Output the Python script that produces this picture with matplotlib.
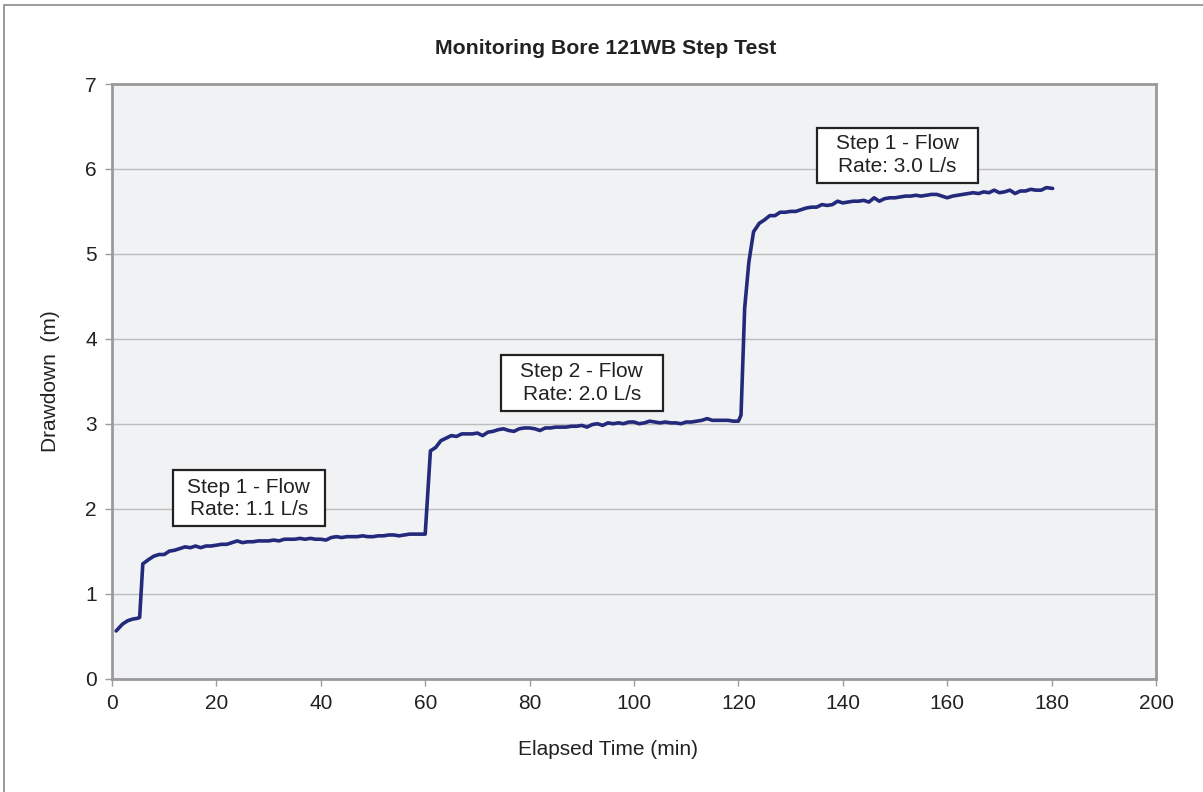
import matplotlib
matplotlib.use("Agg")
import matplotlib.pyplot as plt
from matplotlib.patches import Rectangle

plt.rcParams['font.family'] = ['Liberation Sans', 'DejaVu Sans']

time_min = [0.8, 2, 3, 4, 5, 5.3, 5.9, 7, 8, 9, 10, 11, 12, 13, 14, 15, 16, 17, 18, 19, 20,
            21, 22, 23, 24, 25, 26, 27, 28, 29, 30, 31, 32, 33, 34, 35, 36, 37, 38, 39, 40,
            41, 42, 43, 44, 45, 46, 47, 48, 49, 50, 51, 52, 53, 54, 55, 56, 57, 58, 59, 60.0,
            61.0, 62, 63, 64, 65, 66, 67, 68, 69, 70, 71, 72, 73, 74, 75, 76, 77, 78, 79, 80,
            81, 82, 83, 84, 85, 86, 87, 88, 89, 90, 91, 92, 93, 94, 95, 96, 97, 98, 99, 100,
            101, 102, 103, 104, 105, 106, 107, 108, 109, 110, 111, 112, 113, 114, 115, 116,
            117, 118, 119, 120.0, 120.5, 121.2, 122.0, 122.9, 124, 125, 126, 127, 128, 129,
            130, 131, 132, 133, 134, 135, 136, 137, 138, 139, 140, 141, 142, 143, 144, 145,
            146, 147, 148, 149, 150, 151, 152, 153, 154, 155, 156, 157, 158, 159, 160, 161,
            162, 163, 164, 165, 166, 167, 168, 169, 170, 171, 172, 173, 174, 175, 176, 177,
            178, 179, 180.2]
drawdown_m = [0.56, 0.64, 0.68, 0.70, 0.71, 0.72, 1.35, 1.40, 1.44, 1.46, 1.46, 1.50, 1.51,
              1.53, 1.55, 1.54, 1.56, 1.54, 1.56, 1.56, 1.57, 1.58, 1.58, 1.60, 1.62, 1.60,
              1.61, 1.61, 1.62, 1.62, 1.62, 1.63, 1.62, 1.64, 1.64, 1.64, 1.65, 1.64, 1.65,
              1.64, 1.64, 1.63, 1.66, 1.67, 1.66, 1.67, 1.67, 1.67, 1.68, 1.67, 1.67, 1.68,
              1.68, 1.69, 1.69, 1.68, 1.69, 1.70, 1.70, 1.70, 1.70,
              2.68, 2.72, 2.80, 2.83, 2.86, 2.85, 2.88, 2.88, 2.88, 2.89, 2.86, 2.90, 2.91,
              2.93, 2.94, 2.92, 2.91, 2.94, 2.95, 2.95, 2.94, 2.92, 2.95, 2.95, 2.96, 2.96,
              2.96, 2.97, 2.97, 2.98, 2.96, 2.99, 3.00, 2.98, 3.01, 3.00, 3.01, 3.00, 3.02,
              3.02, 3.00, 3.01, 3.03, 3.02, 3.01, 3.02, 3.01, 3.01, 3.00, 3.02, 3.02, 3.03,
              3.04, 3.06, 3.04, 3.04, 3.04, 3.04, 3.03, 3.03, 3.10, 4.36, 4.90, 5.26, 5.36,
              5.40, 5.45, 5.45, 5.49, 5.49, 5.50, 5.50, 5.52, 5.54, 5.55, 5.55, 5.58, 5.57,
              5.58, 5.62, 5.60, 5.61, 5.62, 5.62, 5.63, 5.61, 5.66, 5.62, 5.65, 5.66, 5.66,
              5.67, 5.68, 5.68, 5.69, 5.68, 5.69, 5.70, 5.70, 5.68, 5.66, 5.68, 5.69, 5.70,
              5.71, 5.72, 5.71, 5.73, 5.72, 5.75, 5.72, 5.73, 5.75, 5.71, 5.74, 5.74, 5.76,
              5.75, 5.75, 5.78, 5.77]

annot_text = ["Step 1 - Flow\nRate: 1.1 L/s", "Step 2 - Flow\nRate: 2.0 L/s",
              "Step 1 - Flow\nRate: 3.0 L/s"]
annot_x = [26.2, 90.0, 150.5]
annot_y = [2.12, 3.48, 6.16]
box_w = [29.1, 31.0, 30.7]
box_h = [0.66, 0.66, 0.65]

x_ticks = [0, 20, 40, 60, 80, 100, 120, 140, 160, 180, 200]
y_ticks = [0, 1, 2, 3, 4, 5, 6, 7]

fig = plt.figure(figsize=(12.03, 7.92), dpi=100)
ax = fig.add_axes([112/1203, 1-678.5/792, (1156-112)/1203, (678.5-84)/792])
ax.set_facecolor('#F1F2F4')

ax.plot(time_min, drawdown_m, color='#232A7C', lw=2.6, solid_joinstyle='round',
        solid_capstyle='round', zorder=3)

ax.set_xlim(0, 200)
ax.set_ylim(0, 7)
ax.set_xticks(x_ticks)
ax.set_yticks(y_ticks)
ax.yaxis.grid(True, color='#BDBDBD', lw=1.0)
ax.set_axisbelow(True)
for s in ax.spines.values():
    s.set_color('#9A9A9C')
    s.set_linewidth(2.0)
ax.tick_params(axis='both', direction='out', length=5, width=1, color='#9A9A9C',
               labelsize=15, labelcolor='#222222', pad=6)

ax.set_xlabel('Elapsed Time (min)', fontsize=15, color='#222222')
ax.xaxis.set_label_coords(0.475, -0.103)
ax.set_ylabel('Drawdown  (m)', fontsize=15, color='#222222', labelpad=18)
fig.text(606/1203, 1-48.5/792, 'Monitoring Bore 121WB Step Test', ha='center', va='center',
         fontsize=15.3, fontweight='bold', color='#222222')

for t, xx, yy, w, h in zip(annot_text, annot_x, annot_y, box_w, box_h):
    ax.add_patch(Rectangle((xx - w/2, yy - h/2), w, h, fc='white', ec='#222222',
                           lw=1.6, zorder=4))
    ax.text(xx, yy, t, ha='center', va='center', fontsize=15, color='#222222',
            linespacing=1.25, zorder=5)

fig.patches.append(Rectangle((4/1203, -0.1), 1.2, (1-5/792) + 0.1,
                             transform=fig.transFigure, fill=False,
                             ec='#8A8A8A', lw=1.2))

fig.savefig('out.png', dpi=100)
